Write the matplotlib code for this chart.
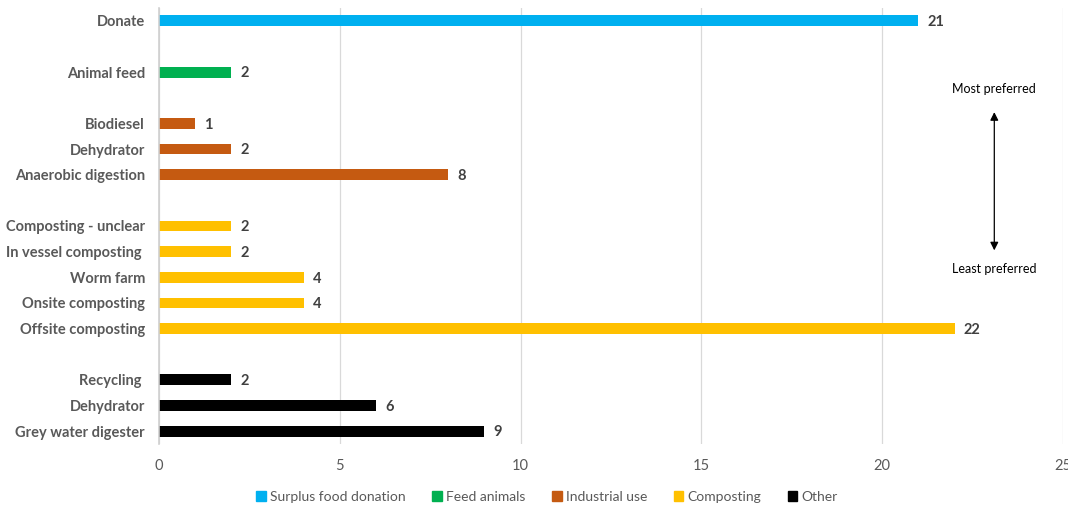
import matplotlib.pyplot as plt
from matplotlib.patches import Patch

plt.rcParams["font.family"] = ["Lato", "DejaVu Sans"]

# top-to-bottom, "" rows are spacers between groups
labels = ["Donate", "", "Animal feed", "", "Biodiesel", "Dehydrator", "Anaerobic digestion", "",
          "Composting - unclear", "In vessel composting ", "Worm farm", "Onsite composting",
          "Offsite composting", "", "Recycling ", "Dehydrator", "Grey water digester"]
values = [21, None, 2, None, 1, 2, 8, None, 2, 2, 4, 4, 22, None, 2, 6, 9]
groups = ["Surplus food donation", None, "Feed animals", None, "Industrial use", "Industrial use",
          "Industrial use", None, "Composting", "Composting", "Composting", "Composting",
          "Composting", None, "Other", "Other", "Other"]
group_names = ["Surplus food donation", "Feed animals", "Industrial use", "Composting", "Other"]
group_colors = {"Surplus food donation": "#00B0F0", "Feed animals": "#00B050",
                "Industrial use": "#C55A11", "Composting": "#FFC000", "Other": "#000000"}

fig = plt.figure(figsize=(10.68, 5.08), dpi=100)
ax = fig.add_axes([159 / 1068, 1 - 444 / 508, (1063 - 159) / 1068, 436 / 508])

for i, (v, g) in enumerate(zip(values, groups)):
    if v is None:
        continue
    ax.barh(i, v, height=0.42, color=group_colors[g], zorder=3)
    ax.text(v + 0.25, i + 0.05, str(v), va="center", ha="left", fontsize=10.5,
            fontweight="bold", color="#404040")

ax.set_ylim(len(labels) - 0.5, -0.5)
ax.set_xlim(0, 25)
ax.set_yticks(range(len(labels)))
ax.set_yticklabels(labels, fontsize=10.5, fontweight="bold", color="#595959")
ax.set_xticks([0, 5, 10, 15, 20, 25])
ax.tick_params(axis="x", colors="#595959", labelsize=10.5, length=0, pad=11)
ax.tick_params(axis="y", length=0, pad=10)
ax.grid(axis="x", color="#D9D9D9", linewidth=0.9, zorder=0)
for s in ["top", "right", "bottom"]:
    ax.spines[s].set_visible(False)
ax.spines["left"].set_color("#D0D0D0")
ax.spines["left"].set_linewidth(1.2)
ax.spines["left"].set_zorder(4)

# preference arrow
ax.annotate("", xy=(23.1, 3.56), xytext=(23.1, 8.95),
            arrowprops=dict(arrowstyle="<|-|>", color="black", lw=0.9,
                            mutation_scale=12, shrinkA=0, shrinkB=0))
ax.text(23.1, 2.66, "Most preferred", ha="center", va="center", fontsize=9, color="black")
ax.text(23.1, 9.66, "Least preferred", ha="center", va="center", fontsize=9, color="black")

handles = [Patch(color=group_colors[g], label=g) for g in group_names]
fig.legend(handles=handles, loc="center", bbox_to_anchor=(547 / 1068, 1 - 497 / 508), ncol=5,
           frameon=False, fontsize=10, handlelength=0.7, handleheight=0.7,
           handletextpad=0.3, columnspacing=1.9, labelcolor="#595959")

fig.savefig("out.png", dpi=100)
